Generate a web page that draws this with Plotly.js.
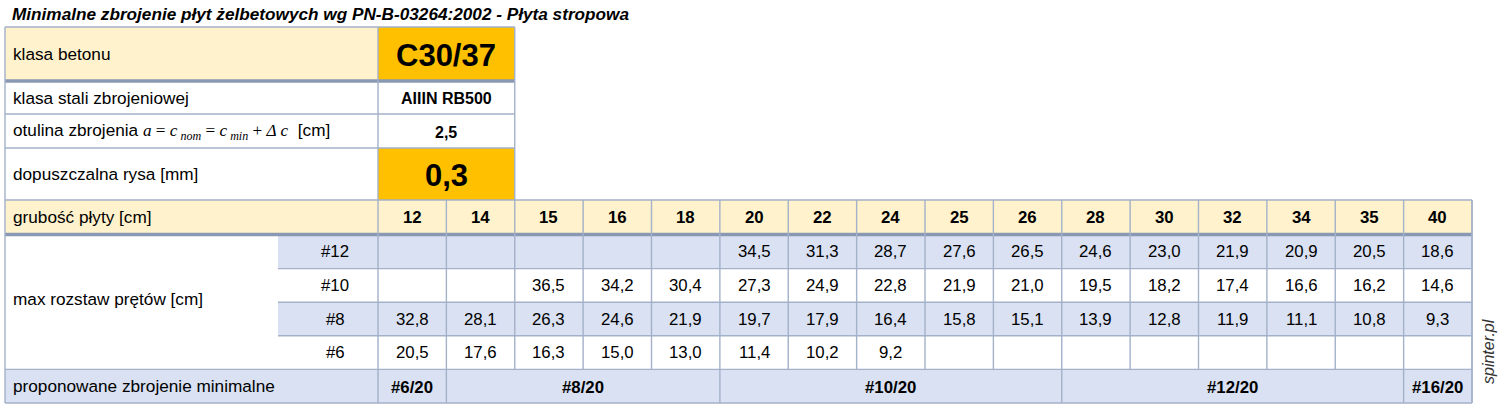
<!DOCTYPE html>
<html>
<head>
<meta charset="utf-8">
<script src="https://cdn.plot.ly/plotly-3.0.1.min.js"></script>
<style>
  html, body { margin: 0; padding: 0; background: #fff; }
  #chart { width: 1500px; height: 411px; }
</style>
</head>
<body>
<div id="chart"></div>
<script>
// --- data ---
const title = 'Minimalne zbrojenie płyt żelbetowych wg PN-B-03264:2002 - Płyta stropowa';
const paramLabels = ['klasa betonu', 'klasa stali zbrojeniowej',
    'otulina zbrojenia <span style="font-family:Liberation Serif"><i>a</i> = <i>c</i><sub><i> nom</i></sub> = <i>c</i><sub><i> min</i></sub> + <i>Δ c</i></span>  [cm]',
    'dopuszczalna rysa [mm]'];
const paramValues = ['C30/37', 'AIIIN RB500', '2,5', '0,3'];
const thickness = [12, 14, 15, 16, 18, 20, 22, 24, 25, 26, 28, 30, 32, 34, 35, 40];
const barLabels = ['#12', '#10', '#8', '#6'];
const spacing12 = [null, null, null, null, null, 34.5, 31.3, 28.7, 27.6, 26.5, 24.6, 23.0, 21.9, 20.9, 20.5, 18.6];
const spacing10 = [null, null, 36.5, 34.2, 30.4, 27.3, 24.9, 22.8, 21.9, 21.0, 19.5, 18.2, 17.4, 16.6, 16.2, 14.6];
const spacing8 = [32.8, 28.1, 26.3, 24.6, 21.9, 19.7, 17.9, 16.4, 15.8, 15.1, 13.9, 12.8, 11.9, 11.1, 10.8, 9.3];
const spacing6 = [20.5, 17.6, 16.3, 15.0, 13.0, 11.4, 10.2, 9.2, null, null, null, null, null, null, null, null];
const proposals = ['#6/20', '#8/20', '#10/20', '#12/20', '#16/20'];
const proposalSpan = [1, 4, 5, 5, 1];

// --- layout geometry ---
const yellow = '#fff2cc', orange = '#ffc000', blue = '#d9e1f2', white = '#ffffff';
const gridCol = '#a3b1c9', thickCol = '#8a99b3';
const left = 5, labelEnd = 278, valX = 378, right = 1472;
const colW = (right - valX) / thickness.length;
const topRows = [27, 81, 114, 148, 200];
const headRow = [200, 233];
const dataTop = 235, dataH = 33.6;
const propRow = [dataTop + 4 * dataH, 403];

const sans = 'Liberation Sans, Arial, sans-serif';
const labelSize = 17.2, numSize = 16.8;

const shapes = [];
const annotations = [];

function rect(x0, x1, y0, y1, fill) {
    shapes.push({type: 'rect', xref: 'x', yref: 'y', x0, x1, y0, y1,
        fillcolor: fill, line: {width: 0}, layer: 'below'});
}
function line(x0, y0, x1, y1, w, c) {
    shapes.push({type: 'line', xref: 'x', yref: 'y', x0, y0, x1, y1,
        line: {width: w || 1.4, color: c || gridCol}});
}
function text(t, x, y, size, opts = {}) {
    if (t === '') return;
    annotations.push({text: t, x, y, xref: 'x', yref: 'y', showarrow: false,
        xanchor: opts.xanchor || 'center', yanchor: 'middle',
        font: {family: opts.family || sans, size, color: '#000'}});
}
const colLeft = i => valX + i * colW;
const fmt = v => v == null ? '' : v.toFixed(1).replace('.', ',');

// parameter block
const paramFill = [[yellow, orange], [white, white], [white, white], [white, orange]];
const paramSize = [31, 16, 16, 31];
paramLabels.forEach((lab, i) => {
    const y0 = topRows[i], y1 = topRows[i + 1], yc = (y0 + y1) / 2;
    rect(left, valX, y0, y1, paramFill[i][0]);
    rect(valX, valX + 2 * colW, y0, y1, paramFill[i][1]);
    text(lab, left + 6, yc, labelSize, {xanchor: 'left'});
    text('<b>' + paramValues[i] + '</b>', valX + colW, yc + 1, paramSize[i]);
});
topRows.slice(1, -1).forEach((y, i) => line(left, y, valX + 2 * colW, y, i === 0 ? 3.5 : 1.4, i === 0 ? thickCol : gridCol));
line(left, topRows[0], valX + 2 * colW, topRows[0]);
line(valX, topRows[0], valX, headRow[0]);
line(valX + 2 * colW, topRows[0], valX + 2 * colW, headRow[0]);

// thickness header row
rect(left, right, headRow[0], headRow[1], yellow);
text('grubość płyty [cm]', left + 6, (headRow[0] + headRow[1]) / 2, labelSize, {xanchor: 'left'});
thickness.forEach((t, i) => {
    text('<b>' + t + '</b>', colLeft(i) + colW / 2, (headRow[0] + headRow[1]) / 2 + 1, numSize);
});
line(left, headRow[0], right, headRow[0]);
line(left, headRow[1] + 1.5, right, headRow[1] + 1.5, 3.5, thickCol);

// spacing rows
const spacingRows = [spacing12, spacing10, spacing8, spacing6];
rect(left, labelEnd, dataTop, propRow[0], white);
text('max rozstaw prętów [cm]', left + 6, dataTop + 2 * dataH - 3, labelSize, {xanchor: 'left'});
spacingRows.forEach((row, r) => {
    const y0 = dataTop + r * dataH, y1 = y0 + dataH, yc = (y0 + y1) / 2;
    const fill = r % 2 === 0 ? blue : white;
    rect(labelEnd, right, y0, y1, fill);
    text(barLabels[r], 335, yc, numSize);
    row.forEach((v, i) => text(fmt(v), colLeft(i) + colW / 2, yc, numSize));
    if (r > 0) line(labelEnd, y0, right, y0);
});

// proposal row
rect(left, right, propRow[0], propRow[1], blue);
line(left, propRow[0], right, propRow[0]);
text('proponowane zbrojenie minimalne', left + 6, (propRow[0] + propRow[1]) / 2, labelSize, {xanchor: 'left'});
let start = 0;
proposals.forEach((p, k) => {
    const x0 = colLeft(start), x1 = colLeft(start + proposalSpan[k]);
    text('<b>' + p + '</b>', (x0 + x1) / 2, (propRow[0] + propRow[1]) / 2 + 1, numSize);
    line(x1, propRow[0], x1, propRow[1]);
    start += proposalSpan[k];
});

// vertical grid over thickness and spacing rows
for (let i = 0; i <= thickness.length; i++) {
    line(colLeft(i), headRow[0], colLeft(i), propRow[0]);
}
line(valX, propRow[0], valX, propRow[1]);

// outer frame
line(left, topRows[0], left, propRow[1]);
line(left, propRow[1], right, propRow[1]);
line(right, headRow[0], right, propRow[1]);

// title + watermark
text('<b><i>' + title + '</i></b>', 10, 14, 17.2, {xanchor: 'left'});
annotations.push({text: '<i>spinter.pl</i>', x: 1488, y: 352, xref: 'x', yref: 'y',
    showarrow: false, textangle: -90, xanchor: 'center', yanchor: 'middle',
    font: {family: sans, size: 16, color: '#333'}});

const layout = {
    width: 1500, height: 411,
    margin: {l: 0, r: 0, t: 0, b: 0},
    paper_bgcolor: '#fff', plot_bgcolor: '#fff',
    xaxis: {range: [0, 1500], visible: false, fixedrange: true},
    yaxis: {range: [411, 0], visible: false, fixedrange: true},
    shapes, annotations, showlegend: false
};

Plotly.newPlot('chart', [], layout, {staticPlot: true, displayModeBar: false});
</script>
</body>
</html>
